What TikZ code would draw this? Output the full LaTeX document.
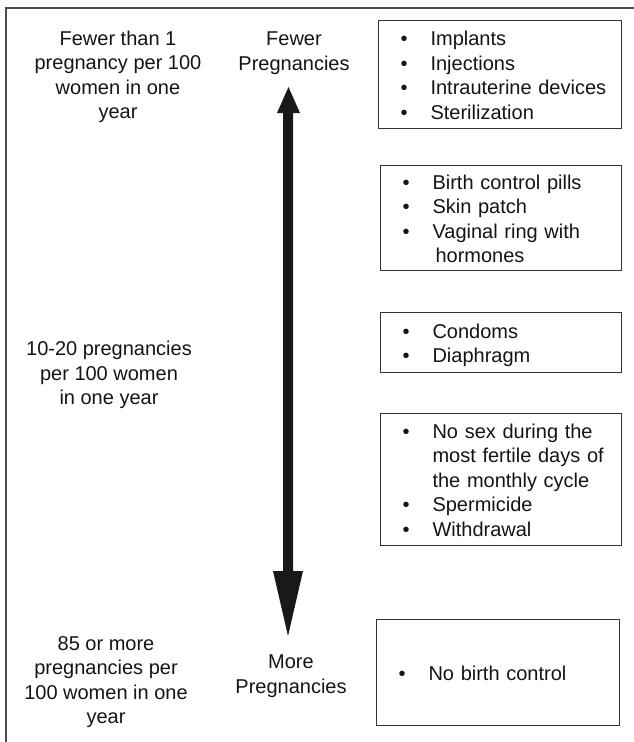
\documentclass[tikz,border=0pt]{standalone}
\usepackage{fontspec}
\setmainfont{Liberation Sans}
\usepackage{array}
\newcommand{\blist}[1]{\raisebox{-3pt}[\height][\depth]{\begin{tabular}{@{}p{30pt}@{}l@{}}#1\end{tabular}}}
\newcommand{\bi}{\textbullet}
\tikzset{
  txt/.style={font=\fontsize{20}{24.5}\selectfont, text=black!92},
  listbox/.style={txt, draw=black!80, line width=1.1pt, text width=#1pt-44pt, minimum width=#1pt, inner xsep=22pt, inner ysep=0pt, align=left, anchor=north west},
  lbl/.style={txt, align=center, inner sep=0pt},
  frame/.style={draw=black!70, line width=1.5pt},
  bigarrow/.style={fill=black!90},
}
\begin{document}
\begin{tikzpicture}[x=1pt,y=-1pt]
\useasboundingbox (0,0) rectangle (634,742);
% outer frame (right and bottom edges lie outside the picture)
\coordinate (fa) at (6,742);
\coordinate (fb) at (6,8);
\coordinate (fc) at (634,8);
\draw[frame] (fa) -- (fb) -- (fc);

% left column labels
\node[lbl] (l1) at (118,77) {Fewer than 1\\pregnancy per 100\\women in one\\year};
\node[lbl] (l2) at (109,375) {10-20 pregnancies\\per 100 women\\in one year};
\node[lbl] (l3) at (106,682) {85 or more\\pregnancies per\\100 women in one\\year};

% middle labels
\node[lbl] (top) at (294,53) {Fewer\\Pregnancies};
\node[lbl] (bot) at (291,676) {More\\Pregnancies};

% double arrow
\coordinate (s1) at (283,113);
\coordinate (h1) at (277,113);
\coordinate (t1) at (288.5,87);
\coordinate (h2) at (300,113);
\coordinate (s2) at (293,113);
\coordinate (s3) at (293,571);
\coordinate (h3) at (303,571);
\coordinate (t2) at (288,636);
\coordinate (h4) at (273,571);
\coordinate (s4) at (283,571);
\fill[bigarrow] (s1) -- (h1) -- (t1) -- (h2) -- (s2) -- (s3) -- (h3) -- (t2) -- (h4) -- (s4) -- cycle;

% boxes
\node[listbox=243, minimum height=108pt] (b1) at (378,20)
  {\blist{\bi & Implants\\ \bi & Injections\\ \bi & Intrauterine devices\\ \bi & Sterilization}};
\node[listbox=241, minimum height=105pt] (b2) at (380,165)
  {\blist{\bi & Birth control pills\\ \bi & Skin patch\\ \bi & Vaginal ring with\\ & \hspace{3pt}hormones}};
\node[listbox=241, minimum height=60pt] (b3) at (380,312)
  {\blist{\bi & Condoms\\ \bi & Diaphragm}};
\node[listbox=241, minimum height=132pt] (b4) at (380,413)
  {\blist{\bi & No sex during the\\ & most fertile days of\\ & the monthly cycle\\ \bi & Spermicide\\ \bi & Withdrawal}};
\node[listbox=243, minimum height=106pt] (b5) at (376,619)
  {\blist{\bi & No birth control}};
\end{tikzpicture}
\end{document}
